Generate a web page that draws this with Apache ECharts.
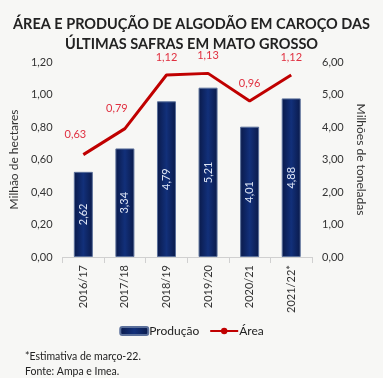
<!DOCTYPE html>
<html><head><meta charset="utf-8">
<script src="https://cdn.jsdelivr.net/npm/echarts@6/dist/echarts.min.js"></script>
<style>html,body{margin:0;padding:0;background:#f7f7f5;}#c{width:383px;height:378px;}</style>
</head><body><div id="c"></div>
<script>
var categories = ['2016/17','2017/18','2018/19','2019/20','2020/21','2021/22*'];
var producao = [2.62, 3.34, 4.79, 5.21, 4.01, 4.88];
var area = [0.63, 0.79, 1.12, 1.13, 0.96, 1.12];
var fmt = function(v){ return Number(v).toFixed(2).replace('.', ','); };
var font = 'Lato, "Open Sans", sans-serif';
var areaData = area.map(function(v, i){
  return i < 2 ? {value: v, label: {offset: [-8, -3]}} : v;
});
var chart = echarts.init(document.getElementById('c'));
chart.setOption({
  backgroundColor: '#f7f7f5',
  textStyle: {fontFamily: font},
  title: [{
    text: 'ÁREA E PRODUÇÃO DE ALGODÃO EM CAROÇO DAS\nÚLTIMAS SAFRAS EM MATO GROSSO',
    left: 'center', top: 9,
    textStyle: {fontSize: 14.5, fontWeight: 'bold', color: '#222', lineHeight: 20, fontFamily: font}
  },{
    text: '*Estimativa de março-22.\nFonte: Ampa e Imea.',
    left: 20, top: 344,
    textStyle: {fontSize: 10.5, fontWeight: 'normal', color: '#222', lineHeight: 15, fontFamily: font}
  }],
  legend: {
    bottom: 36, left: 'center', itemGap: 10,
    itemWidth: 28, itemHeight: 8,
    textStyle: {fontSize: 12, color: '#222', padding: [0,0,0,-4]},
    data: [{name:'Produção'},{name:'Área'}]
  },
  grid: {left: 57, right: 71, top: 62, bottom: 121},
  xAxis: {
    type: 'category', data: categories,
    axisLine: {lineStyle: {color: '#d0d0d0'}},
    axisTick: {show: true, length: 6, lineStyle: {color: '#d0d0d0'}},
    axisLabel: {rotate: 90, color: '#333', fontSize: 11, margin: 8}
  },
  yAxis: [{
    type: 'value', min: 0, max: 1.2, interval: 0.2,
    name: 'Milhão de hectares', nameLocation: 'middle', nameGap: 37, nameRotate: 90,
    nameTextStyle: {color: '#333', fontSize: 12},
    splitLine: {show: false}, axisLine: {show: false}, axisTick: {show: false},
    axisLabel: {color: '#333', fontSize: 11, formatter: fmt, margin: 10}
  },{
    type: 'value', min: 0, max: 6, interval: 1,
    name: 'Milhões de toneladas', nameLocation: 'middle', nameGap: 42, nameRotate: -90,
    nameTextStyle: {color: '#333', fontSize: 12},
    splitLine: {show: false}, axisLine: {show: false}, axisTick: {show: false},
    axisLabel: {color: '#333', fontSize: 11, formatter: fmt, margin: 10}
  }],
  series: [{
    name: 'Produção', type: 'bar', yAxisIndex: 1, barWidth: 19,
    itemStyle: {
      color: new echarts.graphic.LinearGradient(0,0,1,0,[
        {offset:0,color:'#0a1a4a'},{offset:0.5,color:'#12307a'},{offset:1,color:'#0a1a4a'}]),
      borderColor: '#5a6f9a', borderWidth: 1
    },
    label: {show: true, position: 'inside', rotate: 90, color: '#dfe6f5', fontSize: 11, formatter: function(p){return fmt(p.value);}},
    data: producao
  },{
    name: 'Área', type: 'line', yAxisIndex: 0,
    symbol: 'circle', symbolSize: 0.01, showSymbol: true,
    itemStyle: {color: '#c00000'},
    lineStyle: {color: '#c00000', width: 3},
    label: {show: true, position: 'top', distance: 12, color: '#e03040', fontSize: 11, formatter: function(p){return fmt(p.value);}},
    data: areaData
  }]
});
</script></body></html>
